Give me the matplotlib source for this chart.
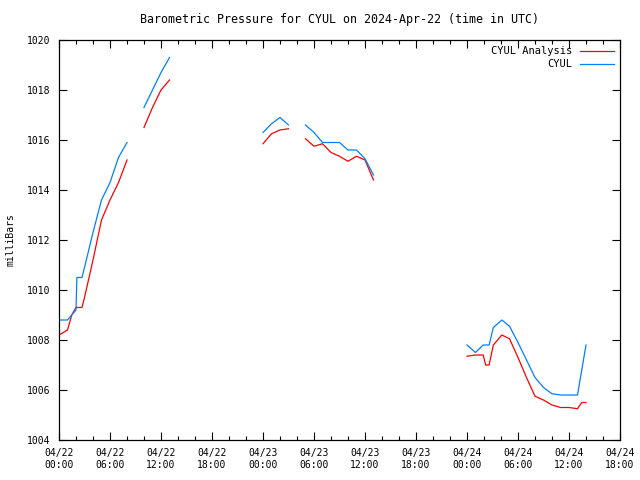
import numpy as np
import matplotlib
matplotlib.use("Agg")
import matplotlib.pyplot as plt
from matplotlib.ticker import MultipleLocator

# hours since 2024-04-22 00:00 UTC, nan = gap in the record
analysis_hours = [0, 1, 1.5, 2, 2.7, 3, 4, 5, 6, 7, 8, np.nan,
                  10, 11, 12, 13, np.nan,
                  24, 25, 26, 27, np.nan,
                  29, 30, 31, 32, 33, 34, 35, 36, 37, np.nan,
                  48, 49, 49.9, 50.2, 50.6, 51.1, 52.1, 53, 54, 55, 56, 57, 58, 59, 60, 61, 61.5, 62]
analysis_mb = [1008.2, 1008.4, 1009.0, 1009.3, 1009.3, 1009.7, 1011.2, 1012.8, 1013.6, 1014.3, 1015.2, np.nan,
               1016.5, 1017.3, 1018.0, 1018.4, np.nan,
               1015.85, 1016.25, 1016.4, 1016.45, np.nan,
               1016.05, 1015.75, 1015.85, 1015.5, 1015.35, 1015.15, 1015.35, 1015.2, 1014.4, np.nan,
               1007.35, 1007.4, 1007.4, 1007.0, 1007.0, 1007.8, 1008.2, 1008.05, 1007.3, 1006.5, 1005.75,
               1005.6, 1005.4, 1005.3, 1005.3, 1005.25, 1005.5, 1005.5]

obs_hours = [0, 1, 1.5, 2, 2.1, 2.7, 3, 4, 5, 6, 7, 8, np.nan,
             10, 11, 12, 13, np.nan,
             24, 25, 26, 27, np.nan,
             29, 30, 31, 32, 33, 34, 35, 36, 37, np.nan,
             48, 49, 49.9, 50.6, 51.1, 52.1, 53, 54, 55, 56, 57, 58, 59, 60, 61, 62]
obs_mb = [1008.8, 1008.8, 1009.0, 1009.2, 1010.5, 1010.5, 1010.9, 1012.3, 1013.6, 1014.3, 1015.3, 1015.9, np.nan,
          1017.3, 1018.0, 1018.7, 1019.3, np.nan,
          1016.3, 1016.65, 1016.9, 1016.6, np.nan,
          1016.6, 1016.3, 1015.9, 1015.9, 1015.9, 1015.6, 1015.6, 1015.25, 1014.6, np.nan,
          1007.8, 1007.5, 1007.8, 1007.8, 1008.5, 1008.8, 1008.55, 1007.9, 1007.2, 1006.5,
          1006.1, 1005.85, 1005.8, 1005.8, 1005.8, 1007.8]

tick_hours = [0, 6, 12, 18, 24, 30, 36, 42, 48, 54, 60, 66]
tick_labels = ["04/22\n00:00", "04/22\n06:00", "04/22\n12:00", "04/22\n18:00",
               "04/23\n00:00", "04/23\n06:00", "04/23\n12:00", "04/23\n18:00",
               "04/24\n00:00", "04/24\n06:00", "04/24\n12:00", "04/24\n18:00"]

plt.rcParams["font.family"] = ["DejaVu Sans Mono"]
plt.rcParams["font.size"] = 7

fig = plt.figure(figsize=(6.4, 4.8), dpi=100)
ax = fig.add_axes([59 / 640, 40 / 480, 561 / 640, 400 / 480])

ax.plot(analysis_hours, analysis_mb, color="#ff0000", lw=0.9, label="CYUL Analysis")
ax.plot(obs_hours, obs_mb, color="#0080ff", lw=0.9, label="CYUL")

ax.set_xlim(0, 66)
ax.set_ylim(1004, 1020)
ax.set_xticks(tick_hours)
ax.set_xticklabels(tick_labels)
ax.xaxis.set_minor_locator(MultipleLocator(2))
ax.set_yticks(range(1004, 1021, 2))
ax.tick_params(which="both", direction="in", top=True, right=True, width=0.8)
ax.tick_params(which="major", length=6, pad=6)
ax.tick_params(which="minor", length=3)
for s in ax.spines.values():
    s.set_linewidth(0.9)

ax.set_ylabel("milliBars")
ax.yaxis.set_label_coords(-43 / 561, 0.5)
ax.set_title("Barometric Pressure for CYUL on 2024-Apr-22 (time in UTC)", pad=12)

leg = ax.legend(loc="upper right", frameon=False, markerfirst=False,
                handlelength=3.2, handletextpad=0.8, borderaxespad=0.2,
                labelspacing=0.3, fontsize=7.5)
for t in leg.get_texts():
    t.set_ha("right")
leg._legend_box.align = "right"

fig.savefig("out.png", dpi=100)
